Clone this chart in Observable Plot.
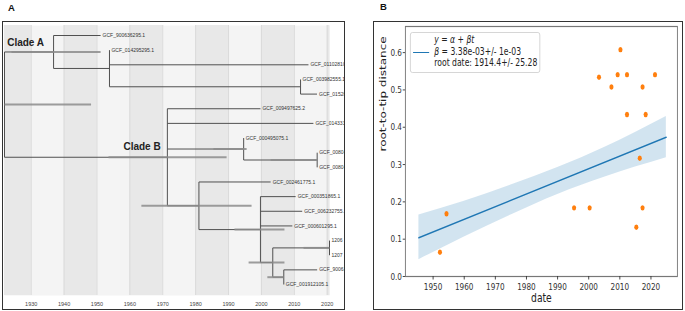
<!DOCTYPE html>
<html><head><meta charset="utf-8">
<script src="https://cdn.jsdelivr.net/npm/d3@7"></script>
<script src="https://cdn.jsdelivr.net/npm/@observablehq/plot@0.6"></script>
<style>
body{margin:0;background:#fff;width:685px;height:311px;position:relative;overflow:hidden;font-family:"Liberation Sans",Arial,sans-serif}
.plabel{position:absolute;font-weight:bold;font-size:9.5px;color:#111;line-height:1}
.box{position:absolute;border:1px solid #333;box-sizing:border-box}
#treeWrap{position:absolute;left:3px;top:22px;width:341px;height:286px;overflow:hidden}
#rttWrap{position:absolute;left:374px;top:22px;width:401px;height:286px;transform:scaleX(0.766);transform-origin:0 0;overflow:hidden}
#legend{position:absolute;left:47px;top:9.7px;width:170px;height:41px;box-sizing:border-box;border:1px solid #d0d0d0;border-radius:3px;background:rgba(255,255,255,0.85)}
#legLine{position:absolute;left:51.3px;top:29.5px;width:20.5px;height:0;border-top:1.5px solid #1f77b4}
#legText{position:absolute;left:78.7px;top:12.2px;font-family:"DejaVu Sans",sans-serif;font-size:10px;line-height:11.6px;color:#222;white-space:pre}
</style></head><body>
<div class="plabel" style="left:8px;top:3px">A</div>
<div class="plabel" style="left:380px;top:2px">B</div>
<div class="box" style="left:2px;top:21px;width:343px;height:289px"></div>
<div class="box" style="left:373px;top:21px;width:310px;height:289px"></div>
<div id="treeWrap"></div>
<div id="rttWrap"><div id="legend"></div><div id="legLine"></div><div id="legText"></div></div>
<script>
// ---------- Panel A: dated tree ----------
const tipNames = ["GCF_900636295.1","GCF_014295295.1","GCF_011028105.1","GCF_003982555.1","GCF_015208445.1","GCF_009497625.2","GCF_014333165.1","GCF_000495075.1","GCF_008041305.1","GCF_008041255.1","GCF_002461775.1","GCF_000351865.1","GCF_006232755.1","GCF_000601295.1","1206","1207","GCF_900635635.1","GCF_001912105.1"];
const tipDates = [1951.1,1953.8,2014.3,2011.9,2016.9,1999.7,2015.8,1994.6,2016.95,2016.95,2002.8,2010.4,2012.4,2009.4,2020.7,2020.7,2016.95,2006.8];
const tipParents = ["cladeA","A2","A2","A3","A3","cladeB","cladeB","B2","B3","B3","B4","B5","B5","B5","B7","B7","B8","B8"];
const nodeNames = ["root","cladeA","A2","A3","cladeB","B2","B3","B4","B5","B6","B7","B8"];
const nodeParents = [null,"root","cladeA","A2","root","cladeB","B2","cladeB","B4","B5","B6","B6"];
const nodeDates = [1921.88,1936.8,1953.8,2011.9,1971.4,1994.6,2016.95,1981.0,1999.7,2003.45,2020.7,2006.8];
const ciNodes = ["root","cladeA","cladeB","B2","B3","B4","B5","B6","B7","B8"];
const ciLow  = [1921.88,1924.0,1953.5,1985.4,2002.8,1963.5,1991.8,1996.1,2012.8,2001.8];
const ciHigh = [1948.2,1951.1,1989.4,1995.5,2017.0,1997.0,2007.0,2007.0,2020.7,2006.8];
const cladeText = ["Clade A","Clade B"];
const cladeDates = [1928.3,1963.7];
const cladeRanks = [0.53,7.62];
const treeTicks = [1930,1940,1950,1960,1970,1980,1990,2000,2010,2020];
const darkDecades = [1920,1940,1960,1980,2000,2020];

const nodes = new Map();
nodeNames.forEach((n,i)=>nodes.set(n,{name:n,date:nodeDates[i],parent:nodeParents[i],children:[]}));
const tips = tipNames.map((n,i)=>({name:n,date:tipDates[i],parent:tipParents[i],y:i,children:[]}));
tips.forEach(t=>nodes.get(t.parent).children.push(t));
nodeNames.forEach(n=>{const nd=nodes.get(n); if(nd.parent) nodes.get(nd.parent).children.push(nd);});
function layY(nd){ if(nd.children.length===0) return nd.y; const ys=nd.children.map(layY); nd.y=(Math.min(...ys)+Math.max(...ys))/2; nd.cmin=Math.min(...ys); nd.cmax=Math.max(...ys); return nd.y; }
layY(nodes.get("root"));
const all = [...nodes.values(), ...tips];
const horiz = all.filter(d=>d.parent).map(d=>({x1:nodes.get(d.parent).date,x2:d.date,y:d.y}));
const vert = [...nodes.values()].map(d=>({x:d.date,y1:d.cmin,y2:d.cmax}));
const cis = ciNodes.map((n,i)=>({lo:ciLow[i],hi:ciHigh[i],y:nodes.get(n).y}));
const clades = cladeText.map((t,i)=>({t,x:cladeDates[i],y:cladeRanks[i]}));

const tree = Plot.plot({
  width:341, height:286, marginLeft:1, marginRight:14.7, marginTop:3, marginBottom:13,
  x:{domain:[1921.88,2020.79]},
  y:{domain:[-0.683,17.75], reverse:true, axis:null},
  style:{fontFamily:"Liberation Sans, Arial, sans-serif", color:"#444", background:"white", overflow:"hidden"},
  marks:[
    Plot.frame({fill:"#f4f4f4", stroke:null}),
    Plot.rect(darkDecades,{x1:d=>d,x2:d=>d+10,fill:"#e8e8e8",clip:true}),
    Plot.ruleX(treeTicks,{stroke:"#dadada",strokeWidth:1}),
    Plot.link(horiz,{x1:"x1",x2:"x2",y1:"y",y2:"y",stroke:"#505050",strokeWidth:1}),
    Plot.link(vert,{x1:"x",x2:"x",y1:"y1",y2:"y2",stroke:"#505050",strokeWidth:1}),
    Plot.link(cis,{x1:"lo",x2:"hi",y1:"y",y2:"y",stroke:"#8c8c8c",strokeWidth:2,strokeOpacity:0.85}),
    Plot.text(tips,{x:"date",y:"y",text:"name",textAnchor:"start",dx:2,fontSize:5,fill:"#333"}),
    Plot.text(clades,{x:"x",y:"y",text:"t",fontSize:10,fontWeight:"bold",fill:"#222"}),
    Plot.axisX({ticks:treeTicks,tickFormat:d=>String(d),tickSize:0,tickPadding:7,fontSize:5.5,label:null})
  ]
});
document.getElementById("treeWrap").appendChild(tree);

// ---------- Panel B: root-to-tip regression ----------
const tipYears = [1952.2,1954.3,1995.3,2000.3,2003.3,2007.3,2009.3,2010.2,2012.3,2012.3,2015.3,2016.4,2017.3,2017.3,2018.3,2021.3];
const rttDist  = [0.065,0.168,0.184,0.184,0.534,0.508,0.541,0.608,0.541,0.434,0.132,0.317,0.508,0.184,0.434,0.541];
const fitDates = [1945.4,2024.9];
const fitValues = [0.104,0.373];
const bandDates = [1945.4,1960,1975,1990,2005,2024.9];
const bandLow  = [0.045,0.106,0.165,0.220,0.266,0.318];
const bandHigh = [0.165,0.202,0.245,0.292,0.346,0.429];
const xTicksB = [1950,1960,1970,1980,1990,2000,2010,2020];
const yTicksB = [0,0.1,0.2,0.3,0.4,0.5,0.6];

const pts = tipYears.map((t,i)=>({t,d:rttDist[i]}));
const fit = fitDates.map((t,i)=>({t,v:fitValues[i]}));
const band = bandDates.map((t,i)=>({t,lo:bandLow[i],hi:bandHigh[i]}));

const rtt = Plot.plot({
  width:401, height:286, marginLeft:40.5, marginRight:5.4, marginTop:4, marginBottom:32,
  x:{domain:[1941.1,2028.5]},
  y:{domain:[0,0.67]},
  style:{fontFamily:"DejaVu Sans, sans-serif", fontSize:"9.5px", color:"#333", background:"white"},
  marks:[
    Plot.areaY(band,{x:"t",y1:"lo",y2:"hi",fill:"#1f77b4",fillOpacity:0.2,curve:"monotone-x"}),
    Plot.line(fit,{x:"t",y:"v",stroke:"#1f77b4",strokeWidth:1.5}),
    Plot.dot(pts,{x:"t",y:"d",r:2.7,fill:"#ff7f0e",stroke:null}),
    Plot.frame({stroke:"#777",strokeWidth:1.2}),
    Plot.axisX({ticks:xTicksB,tickFormat:d=>String(d),tickSize:3.5,tickPadding:3,label:null}),
    Plot.axisY({ticks:yTicksB,tickFormat:d=>d.toFixed(1),tickSize:3,tickPadding:1.5,label:null}),
    Plot.text(["date"],{frameAnchor:"bottom",dy:25,fontSize:12,fill:"#222"}),
    Plot.text(["root-to-tip distance"],{frameAnchor:"left",rotate:-90,dx:-29.4,fontSize:12,fill:"#222"})
  ]
});
document.getElementById("rttWrap").insertBefore(rtt, document.getElementById("legend"));
document.getElementById("legText").innerHTML =
  "<i>y</i> = <i>α</i> + <i>βt</i>\n<i>β</i> = 3.38e-03+/- 1e-03\nroot date: 1914.4+/- 25.28";
</script>
</body></html>
